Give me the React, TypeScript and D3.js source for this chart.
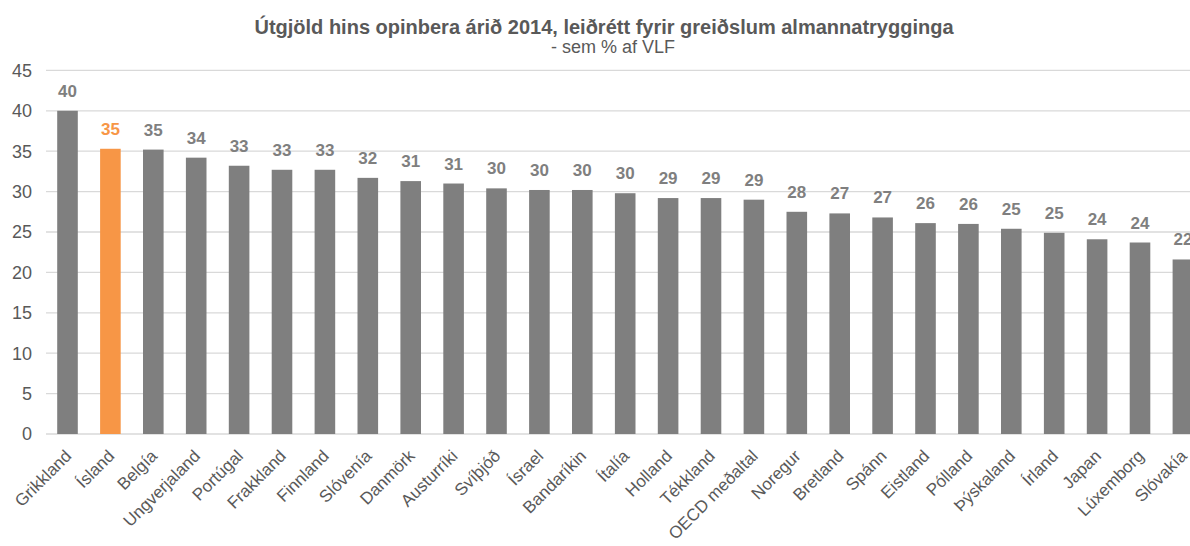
import React, { useEffect } from "react";
import * as d3 from "d3";

const categories = [
  "Grikkland", "Ísland", "Belgía", "Ungverjaland", "Portúgal", "Frakkland", "Finnland",
  "Slóvenía", "Danmörk", "Austurríki", "Svíþjóð", "Ísrael", "Bandaríkin", "Ítalía",
  "Holland", "Tékkland", "OECD meðaltal", "Noregur", "Bretland", "Spánn", "Eistland",
  "Pólland", "Þýskaland", "Írland", "Japan", "Lúxemborg", "Slóvakía",
];
const values = [
  40.0, 35.3, 35.2, 34.2, 33.2, 32.7, 32.7, 31.7, 31.3, 31.0, 30.4, 30.2, 30.2, 29.8,
  29.2, 29.2, 29.0, 27.5, 27.3, 26.8, 26.1, 26.0, 25.4, 24.9, 24.1, 23.7, 21.6,
];
const highlight = "Ísland";
const yTicks = [0, 5, 10, 15, 20, 25, 30, 35, 40, 45];
const titleLine1 = "Útgjöld hins opinbera árið 2014, leiðrétt fyrir greiðslum almannatrygginga";
const titleLine2 = "- sem % af VLF";

const W = 1190;
const H = 546;
const FONT = "'Liberation Sans', Arial, sans-serif";

export default function App() {
  useEffect(() => {
    document.body.style.margin = "0";
  }, []);

  const x = d3
    .scaleBand<string>()
    .domain(categories)
    .range([46.05, 1204.35])
    .paddingInner(0.52)
    .paddingOuter(0.26);
  const y = d3.scaleLinear().domain([0, 45]).range([434, 70.4]);

  return (
    <svg width={W} height={H} style={{ display: "block", background: "#fff" }} fontFamily={FONT}>
      <text x={604} y={34} textAnchor="middle" fontSize={20} fontWeight="bold" fill="#595959">
        {titleLine1}
      </text>
      <text x={613} y={53} textAnchor="middle" fontSize={18} fill="#595959">
        {titleLine2}
      </text>
      {yTicks.map((t) => (
        <g key={t}>
          <line x1={46} x2={W} y1={y(t)} y2={y(t)} stroke="#d9d9d9" strokeWidth={1.3} />
          <text x={32} y={y(t)} dy="0.35em" textAnchor="end" fontSize={18} fill="#595959">
            {t}
          </text>
        </g>
      ))}
      {categories.map((c, i) => {
        const v = values[i];
        const bx = x(c)!;
        const cx = bx + x.bandwidth() / 2;
        const isH = c === highlight;
        return (
          <g key={c}>
            <rect x={bx} y={y(v)} width={x.bandwidth()} height={y(0) - y(v)} fill={isH ? "#f79646" : "#7f7f7f"} />
            <text x={cx} y={y(v) - 14} textAnchor="middle" fontSize={17} fontWeight="bold" fill={isH ? "#f79646" : "#7f7f7f"}>
              {Math.round(v)}
            </text>
            <text
              transform={`translate(${cx + 5},${457}) rotate(-45)`}
              textAnchor="end"
              fontSize={17}
              fill="#595959"
            >
              {c}
            </text>
          </g>
        );
      })}
    </svg>
  );
}
